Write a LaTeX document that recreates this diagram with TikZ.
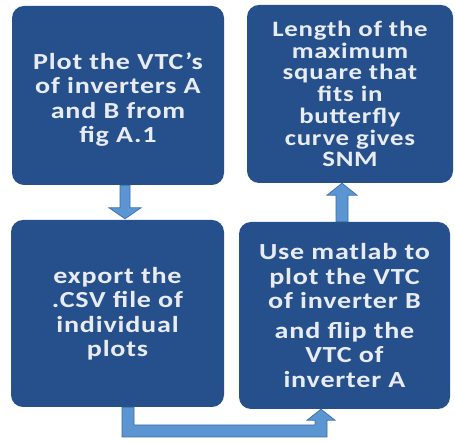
\documentclass[tikz,border=0pt]{standalone}
\usepackage{fontspec}
\newfontfamily\boxfont{Carlito}[FakeStretch=1.22,LetterSpace=3.5]
\usetikzlibrary{calc}
\definecolor{boxblue}{RGB}{38,80,140}
\definecolor{boxtext}{RGB}{232,236,242}
\definecolor{arrowfill}{RGB}{91,150,210}
\definecolor{arrowedge}{RGB}{60,110,170}
\begin{document}
\begin{tikzpicture}[x=1pt,y=1pt,
  stepbox/.style={fill=boxblue, rounded corners=12pt, text=boxtext, align=center,
    inner sep=0pt, font=\boxfont\bfseries\fontsize{23}{24.5}\selectfont},
  blockarrow/.style={fill=arrowfill, draw=arrowedge, line width=0.7pt, line join=miter}]
\useasboundingbox (0,0) rectangle (455,443);

% the four steps
\node[stepbox, minimum width=212pt, minimum height=179pt] (plot) at (118,347.5)
  {\raisebox{-4pt}[\height][\depth]{\parbox{200pt}{\centering Plot the VTC’s\\of inverters A\\and B from\\fig A.1}}};
\node[stepbox, minimum width=206pt, minimum height=178pt,
  font=\boxfont\bfseries\fontsize{22}{21.7}\selectfont] (snm) at (350,349)
  {Length of the\\maximum\\square that\\fits in\\butterfly\\curve gives\\SNM};
\node[stepbox, minimum width=213pt, minimum height=187pt] (export) at (117.5,129.5)
  {export the\\.CSV file of\\individual\\plots};
\node[stepbox, minimum width=211pt, minimum height=187pt] (matlab) at (344.5,127.5)
  {Use matlab to\\plot the VTC\\of inverter B\\[5pt]and flip the\\VTC of\\inverter A};

% plot -> export
\coordinate (a0) at ($(plot.south)+(7,0)$);
\coordinate (a1) at ($(a0|-export.north)+(0,1)$);
\filldraw[blockarrow] ($(a0)+(-5,0)$) -- ($(a1)+(-5,11)$) -- ($(a1)+(-16,11)$) -- (a1)
  -- ($(a1)+(16,11)$) -- ($(a1)+(5,11)$) -- ($(a0)+(5,0)$) -- cycle;

% export -> matlab (elbow under the boxes)
\coordinate (e0) at ($(export.south)+(10.5,0)$);
\coordinate (e1) at ($(matlab.south)+(-23.5,0)$);
\coordinate (bar) at (0,12);
\filldraw[blockarrow] ($(e0)+(-6,0)$) -- ($(e0|-bar)+(-6,-6)$) -- ($(e1|-bar)+(6,-6)$)
  -- ($(e1)+(6,-11)$) -- ($(e1)+(14,-11)$) -- (e1) -- ($(e1)+(-14,-11)$)
  -- ($(e1)+(-6,-11)$) -- ($(e1|-bar)+(-6,6)$) -- ($(e0|-bar)+(6,6)$) -- ($(e0)+(6,0)$) -- cycle;

% matlab -> snm
\coordinate (m0) at ($(matlab.north)+(-2.5,0)$);
\coordinate (m1) at (m0|-snm.south);
\filldraw[blockarrow] ($(m0)+(-6,0)$) -- ($(m1)+(-6,-12)$) -- ($(m1)+(-15,-12)$) -- (m1)
  -- ($(m1)+(15,-12)$) -- ($(m1)+(6,-12)$) -- ($(m0)+(6,0)$) -- cycle;
\end{tikzpicture}
\end{document}
